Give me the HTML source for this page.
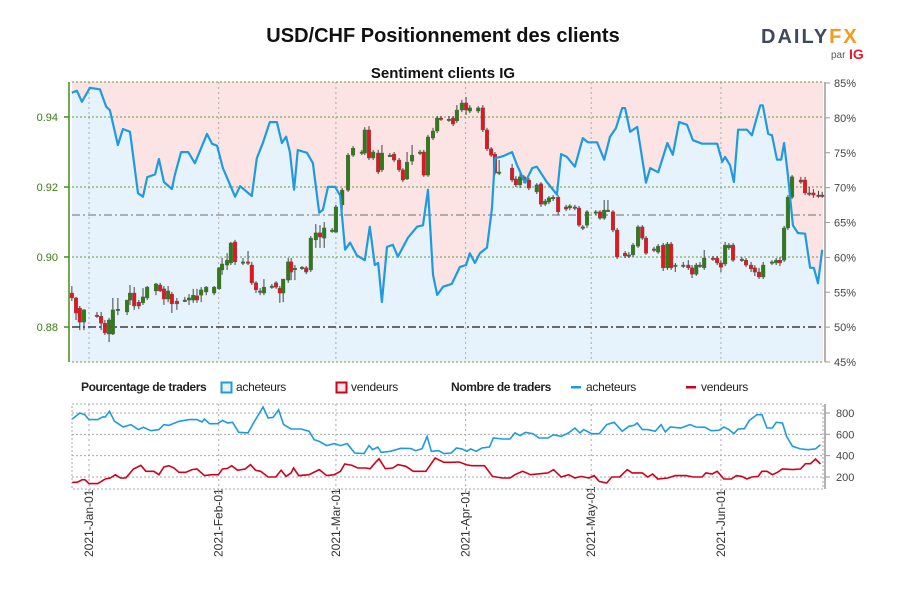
<!DOCTYPE html>
<html><head><meta charset="utf-8"><style>
body{margin:0;background:#fff;}
svg{display:block;font-family:"Liberation Sans",sans-serif;}
</style></head><body>
<svg id="c" width="900" height="600" viewBox="0 0 900 600">
<text x="443" y="42" text-anchor="middle" font-size="20" font-weight="bold" fill="#111">USD/CHF Positionnement des clients</text>
<text x="443" y="78" text-anchor="middle" font-size="15" font-weight="bold" fill="#111">Sentiment clients IG</text>
<g>
<text x="761" y="43" font-size="20" font-weight="bold" letter-spacing="2" fill="#3e4a5b">DAILY<tspan fill="#f39a1e">FX</tspan></text>
<text x="831" y="58" font-size="10" fill="#555">par</text>
<text x="849" y="59" font-size="14" font-weight="bold" fill="#e01e2b">IG</text>
</g>
<g id="main"></g>
<g id="bottom"></g>
<g font-size="12" fill="#222">
<text x="81" y="391" font-weight="bold" letter-spacing="-0.4">Pourcentage de traders</text>
<rect x="221.5" y="382.5" width="10" height="10" fill="#e6f3fb" stroke="#1e9be0" stroke-width="2"/>
<text x="236" y="391" letter-spacing="-0.3">acheteurs</text>
<rect x="336.5" y="382.5" width="10" height="10" fill="#fce6e6" stroke="#d0021b" stroke-width="2"/>
<text x="351" y="391" letter-spacing="-0.3">vendeurs</text>
<text x="451" y="391" font-weight="bold" letter-spacing="-0.4">Nombre de traders</text>
<rect x="571" y="386" width="10" height="2.5" fill="#1e9be0"/>
<text x="586" y="391" letter-spacing="-0.3">acheteurs</text>
<rect x="686" y="386" width="10" height="2.5" fill="#d0021b"/>
<text x="701" y="391" letter-spacing="-0.3">vendeurs</text>
</g>
</svg>
<script>
// ---- data ----
const monthLabels = ["2021-Jan-01","2021-Feb-01","2021-Mar-01","2021-Apr-01","2021-May-01","2021-Jun-01"];
const monthDays = [0,31,59,90,120,151];
const priceTicks = [0.94,0.92,0.90,0.88];
const priceTickLabels = ["0.94","0.92","0.90","0.88"];
const pctTicks = [85,80,75,70,65,60,55,50,45];
const countTicks = [800,600,400,200];
const refPrices = [0.912,0.88];

const sentDays = [-4.1,-2.9,-1.7,0.2,2.6,4.1,5.0,6.9,8.1,9.8,11.7,12.9,13.9,15.8,16.7,17.9,19.8,20.5,22.0,23.7,25.3,28.2,29.4,30.6,32.0,34.9,36.1,38.9,40.1,41.6,43.2,44.9,46.1,47.1,48.0,49.0,49.9,52.1,53.5,55.0,55.9,57.1,58.8,60.0,61.2,62.4,64.0,65.9,67.1,68.3,69.1,70.0,71.2,72.6,73.8,76.2,78.4,79.8,81.0,82.2,83.2,84.6,86.7,88.6,90.1,91.0,92.2,93.4,95.1,96.3,97.0,98.9,101.1,102.3,104.2,105.9,107.0,109.4,111.8,112.8,114.2,116.1,118.0,119.2,121.4,123.1,124.5,125.9,127.4,128.1,129.3,131.0,133.1,134.1,136.0,138.2,139.5,141.0,142.9,144.3,146.5,150.1,151.3,152.0,153.2,154.1,155.1,157.2,158.4,159.4,160.4,161.0,162.3,163.2,164.4,165.4,166.1,167.0,168.2,169.4,171.1,172.3,173.2,174.2,175.2];
const sentLongPct = [83.6,83.9,82.3,84.3,84.1,81.6,81.1,76.1,78.4,78.0,69.2,68.7,71.5,71.9,74.1,70.8,69.8,71.8,75.1,75.1,73.5,77.7,76.3,76.0,72.8,68.7,70.2,68.8,74.2,76.5,79.4,79.4,76.4,77.3,75.1,69.7,75.4,75.0,73.5,66.4,66.8,70.1,70.1,68.9,61.1,62.1,60.3,59.6,64.4,58.9,59.2,53.6,61.5,61.8,60.1,62.8,64.4,64.6,69.7,57.5,54.6,55.8,56.2,58.6,58.9,60.6,59.2,60.6,61.4,67.1,74.2,74.5,75.1,73.2,70.7,72.8,73.0,70.8,69.0,74.8,74.4,73.0,77.1,76.5,76.5,74.0,77.3,78.5,81.4,81.4,78.0,78.7,70.7,72.8,72.2,76.4,74.7,79.4,79.0,76.8,76.3,76.3,73.7,74.4,73.2,70.8,78.3,78.3,77.5,79.7,81.8,81.8,77.7,77.5,74.0,74.0,76.4,71.8,64.6,63.5,63.4,58.5,58.5,56.3,61.1];

const candleDays = [-4.1,-3.1,-2.2,-1.2,1.9,2.9,3.8,4.8,5.7,6.9,9.1,9.8,10.8,11.9,12.9,13.9,16.0,17.0,17.9,18.9,19.8,21.0,22.9,23.9,24.9,25.8,26.8,28.0,29.9,31.1,31.8,33.0,33.9,34.9,36.8,38.0,38.9,39.9,40.9,41.8,43.7,44.7,45.6,46.4,47.6,48.3,49.2,50.9,51.9,53.0,54.2,55.2,56.2,58.1,59.0,60.5,61.9,63.1,65.2,65.9,66.9,67.9,69.1,70.0,71.9,72.9,74.1,75.0,76.0,77.2,79.1,80.0,81.0,82.2,83.2,84.1,86.0,87.0,87.9,89.1,90.1,91.0,93.0,94.1,95.1,96.1,97.0,98.0,101.1,102.0,103.0,103.9,105.1,107.0,108.0,109.0,109.9,110.9,112.1,114.0,114.9,116.1,117.1,118.0,119.0,121.1,122.1,123.1,124.0,125.2,126.2,128.1,129.0,130.0,131.2,132.2,133.1,135.0,136.0,137.2,138.2,139.1,140.1,142.0,143.2,144.1,145.1,146.0,147.0,149.1,150.1,151.0,152.0,152.9,153.9,156.0,157.0,158.2,159.1,160.1,161.1,163.2,164.2,165.1,166.1,167.0,168.0,170.1,171.1,172.1,173.1,174.3,175.2];
const candleOpen = [.8897,.8883,.8854,.8814,.8834,.8831,.8811,.8780,.8780,.8849,.8843,.8877,.8897,.8871,.8869,.8883,.8903,.8920,.8909,.8880,.8894,.8874,.8874,.8877,.8877,.8889,.8891,.8900,.8897,.8909,.8963,.8977,.8983,.9043,.8983,.8986,.8977,.8926,.8903,.8897,.8914,.8926,.8911,.8897,.8934,.8986,.8966,.8969,.8969,.8963,.9049,.9069,.9054,.9074,.9071,.9149,.9191,.9291,.9297,.9297,.9363,.9283,.9297,.9249,.9289,.9294,.9277,.9249,.9223,.9274,.9297,.9300,.9234,.9340,.9360,.9397,.9391,.9397,.9389,.9420,.9440,.9417,.9417,.9426,.9363,.9309,.9294,.9240,.9254,.9223,.9206,.9229,.9220,.9186,.9209,.9151,.9157,.9166,.9171,.9143,.9140,.9143,.9140,.9086,.9091,.9126,.9129,.9111,.9131,.9129,.9077,.9011,.9003,.9006,.9031,.9086,.9054,.9023,.9014,.9034,.8969,.9037,.8974,.8974,.8977,.8969,.8951,.8974,.8969,.8997,.8997,.8983,.8980,.9026,.9034,.8991,.8991,.8977,.8969,.8957,.8943,.8983,.8983,.8991,.8991,.9083,.9171,.9220,.9220,.9183,.9183,.9177,.9177];
const candleClose = [.8883,.8840,.8814,.8849,.8831,.8811,.8783,.8820,.8849,.8851,.8877,.8897,.8860,.8860,.8886,.8914,.8923,.8903,.8880,.8903,.8866,.8866,.8877,.8883,.8891,.8877,.8906,.8914,.8914,.8969,.8980,.8991,.9040,.8986,.8986,.8983,.8926,.8906,.8900,.8914,.8917,.8914,.8897,.8937,.8986,.8957,.8968,.8971,.8957,.9054,.9069,.9057,.9083,.9077,.9143,.9191,.9291,.9311,.9300,.9363,.9283,.9300,.9243,.9297,.9291,.9277,.9249,.9220,.9271,.9291,.9300,.9234,.9343,.9360,.9397,.9394,.9394,.9380,.9420,.9440,.9420,.9426,.9426,.9363,.9309,.9291,.9240,.9243,.9220,.9206,.9229,.9220,.9197,.9206,.9151,.9160,.9169,.9171,.9129,.9137,.9146,.9140,.9091,.9083,.9129,.9129,.9111,.9134,.9134,.9077,.9000,.9003,.9006,.9034,.9086,.9054,.9011,.9020,.9031,.8969,.9037,.8969,.8977,.8977,.8969,.8951,.8977,.8977,.8997,.8994,.8983,.8971,.9034,.9034,.8991,.8994,.8977,.8966,.8957,.8943,.8977,.8986,.8991,.8983,.9083,.9171,.9229,.9214,.9183,.9180,.9177,.9174,.9174];
const candleHigh = [.8917,.8886,.8860,.8851,.8843,.8843,.8820,.8826,.8883,.8883,.8877,.8920,.8914,.8877,.8911,.8917,.8926,.8926,.8917,.8917,.8900,.8883,.8886,.8894,.8909,.8909,.8914,.8917,.8917,.8971,.8997,.9011,.9043,.9049,.8997,.9017,.8986,.8931,.8911,.8937,.8923,.8931,.8917,.8937,.8997,.8997,.8977,.8974,.8974,.9060,.9094,.9091,.9100,.9083,.9149,.9197,.9297,.9317,.9306,.9371,.9374,.9306,.9306,.9320,.9297,.9300,.9283,.9254,.9300,.9320,.9306,.9306,.9349,.9369,.9403,.9403,.9403,.9403,.9434,.9449,.9457,.9434,.9431,.9434,.9369,.9314,.9300,.9277,.9266,.9231,.9249,.9234,.9226,.9211,.9214,.9166,.9174,.9177,.9177,.9149,.9151,.9149,.9146,.9091,.9134,.9134,.9134,.9163,.9163,.9134,.9083,.9017,.9014,.9040,.9091,.9091,.9060,.9029,.9037,.9040,.9043,.9043,.8983,.8986,.8991,.8977,.8983,.8986,.9020,.9003,.9003,.8991,.9043,.9040,.9040,.9000,.8997,.8986,.8977,.8969,.8986,.8991,.8997,.9000,.9089,.9177,.9234,.9229,.9229,.9200,.9194,.9189,.9186];
const candleLow = [.8874,.8820,.8791,.8791,.8826,.8791,.8777,.8757,.8777,.8834,.8834,.8863,.8849,.8851,.8863,.8877,.8891,.8900,.8863,.8871,.8840,.8849,.8871,.8863,.8869,.8869,.8871,.8891,.8891,.8906,.8949,.8963,.8977,.8977,.8977,.8977,.8920,.8897,.8891,.8891,.8909,.8909,.8869,.8871,.8926,.8934,.8934,.8963,.8951,.8957,.9026,.9026,.9026,.9069,.9069,.9134,.9186,.9286,.9291,.9291,.9277,.9277,.9237,.9243,.9286,.9271,.9243,.9214,.9220,.9263,.9291,.9229,.9229,.9334,.9354,.9389,.9386,.9374,.9383,.9414,.9406,.9411,.9411,.9357,.9303,.9286,.9234,.9234,.9214,.9200,.9197,.9211,.9191,.9180,.9143,.9146,.9151,.9160,.9120,.9131,.9134,.9134,.9086,.9077,.9083,.9120,.9106,.9106,.9129,.9071,.8994,.8997,.8997,.9000,.9026,.9049,.9006,.9014,.9009,.8960,.8963,.8963,.8957,.8969,.8963,.8940,.8946,.8969,.8963,.8989,.8977,.8957,.8974,.9020,.8986,.8986,.8971,.8957,.8946,.8937,.8937,.8977,.8977,.8974,.8986,.9077,.9166,.9209,.9177,.9174,.9169,.9169,.9169];

const longDays = [-4.0,-2.2,-1.0,0,2.1,3.3,3.9,4.9,6.1,8.2,10.0,11.8,13.0,14.8,16.7,17.9,19.1,21.5,24.0,25.8,27.0,27.6,28.8,30.7,31.9,33.1,34.3,35.8,38.0,39.2,41.6,42.8,44.0,45.3,46.5,48.3,50.7,52.6,53.8,55.0,56.8,58.6,60.1,61.7,63.5,65.7,66.9,67.8,69.0,69.8,72.0,74.5,76.9,78.1,79.6,80.8,81.8,83.6,84.8,86.6,87.8,89.1,90.3,91.2,92.5,93.9,95.7,96.6,98.8,100.6,101.8,103.0,104.3,106.1,107.5,109.7,111.0,112.8,114.6,116.1,117.3,118.2,120.1,121.9,123.7,125.5,127.4,129.0,130.2,131.0,132.2,133.5,135.3,136.7,137.7,138.9,141.4,143.6,145.0,147.2,148.7,150.5,151.7,152.9,154.1,155.1,156.6,157.8,159.6,160.8,162.0,163.3,164.2,165.7,166.7,168.1,170.0,171.8,173.6,174.8];
const longCount = [744,800,784,738,738,763,763,816,722,669,691,644,666,634,644,691,684,722,738,738,716,744,700,700,731,706,713,619,613,700,856,753,759,831,691,650,650,628,550,534,494,513,494,513,425,419,494,456,481,431,441,469,466,447,466,581,441,447,419,425,472,463,441,463,441,472,481,566,556,556,613,588,619,606,566,566,597,581,613,659,613,644,606,606,691,713,628,675,684,706,644,644,628,691,622,669,659,691,669,666,634,638,669,644,606,650,653,731,784,784,659,659,713,706,581,488,463,456,463,503];
const shortDays = [-4.0,-2.8,-1.6,-1.0,0,2.1,3.9,5.1,6.3,7.5,8.8,10.6,12.4,13.6,15.5,16.7,17.9,19.1,20.3,21.5,23.1,24.6,25.8,27.6,29.4,30.9,31.9,33.1,34.1,35.5,37.3,38.6,39.8,41.0,42.8,44.6,45.9,47.1,48.3,48.9,50.1,52.6,55.0,56.8,58.6,60.1,61.1,62.9,64.2,66.0,67.2,68.2,69.3,70.8,72.6,73.8,75.7,77.5,80.5,82.7,84.8,86.6,88.4,90.3,91.5,94.5,96.4,98.8,100.6,101.8,103.6,105.5,107.9,109.7,111.0,112.8,114.6,116.1,117.6,119.5,120.7,121.9,123.7,124.9,126.8,128.6,129.8,132.2,133.5,134.7,135.9,138.3,140.1,142.6,144.4,146.5,147.4,148.9,150.1,151.7,153.5,154.7,156.0,157.2,158.4,159.9,160.8,162.0,163.3,164.5,165.7,168.1,170.0,171.2,172.4,173.6,174.8];
const shortCount = [150,150,175,175,138,138,181,191,222,191,191,275,309,253,253,222,294,306,284,244,244,269,275,213,222,222,275,281,306,263,275,316,263,253,200,200,263,206,238,284,213,222,269,213,222,253,322,309,284,284,278,325,372,278,284,316,300,253,253,378,338,338,341,313,306,306,206,191,191,222,253,222,231,238,269,200,222,191,206,191,213,159,144,200,200,269,238,238,200,228,181,191,213,213,200,200,238,228,253,181,181,213,206,181,200,206,253,253,222,244,275,269,275,325,325,369,322];

// ---- scales ----
const X0=72, X1=823, TOP=82, BOT=362, BTOP=404, BBOT=489;
const xDay = d => 89 + d*4.185;
const yPct = p => 83 + (85-p)*6.975;
const yPrice = v => 117 + (0.94-v)*3500;
const yCount = v => 413 + (800-v)*0.10667;
const NS="http://www.w3.org/2000/svg";
function mk(tag, attrs, parent){const e=document.createElementNS(NS,tag);for(const k in attrs)e.setAttribute(k,attrs[k]);parent.appendChild(e);return e;}

const main=document.getElementById('main');
const bottom=document.getElementById('bottom');

let bg=mk('rect',{x:X0,y:TOP,width:X1-X0,height:BOT-TOP,fill:'#fce4e5'},main);


let pts=sentDays.map((d,i)=>xDay(d).toFixed(1)+','+yPct(sentLongPct[i]).toFixed(1));
let area=mk('polygon',{points:xDay(sentDays[0]).toFixed(1)+','+BOT+' '+pts.join(' ')+' '+xDay(sentDays[sentDays.length-1]).toFixed(1)+','+BOT,fill:'#e6f3fc'},main);



monthDays.forEach((d,i)=>{
  const g=mk('line',{x1:xDay(d),x2:xDay(d),y1:TOP,y2:BOT,stroke:'#aaa','stroke-dasharray':'2,3','stroke-width':1},main);
  
  
  const g2=mk('line',{x1:xDay(d),x2:xDay(d),y1:BTOP,y2:BBOT,stroke:'#aaa','stroke-dasharray':'2,3','stroke-width':1},bottom);
  
  
  const t=mk('text',{x:0,y:0,transform:`translate(${xDay(d)+4},557) rotate(-90)`,'font-size':12,fill:'#333'},bottom);
  t.textContent=monthLabels[i];
  
  
  const tk=mk('line',{x1:xDay(d),x2:xDay(d),y1:BBOT,y2:BBOT+5,stroke:'#999'},bottom);
  
  
});
[TOP,BOT].forEach(y=>{
  const l=mk('line',{x1:X0,x2:X1,y1:y,y2:y,stroke:'#6a9a3a','stroke-dasharray':'2,2'},main);
  
  
});
priceTicks.forEach((p,i)=>{
  const y=yPrice(p);
  if(i<3){
    const l=mk('line',{x1:X0,x2:X1,y1:y,y2:y,stroke:'#6a9a3a','stroke-dasharray':'2,2'},main);
    
    
  }
  const tk=mk('line',{x1:64,x2:69,y1:y,y2:y,stroke:'#4a8a1a','stroke-width':1.5},main);
  
  
  const t=mk('text',{x:58,y:y+4,'text-anchor':'end','font-size':11,fill:'#3a7a10'},main);
  t.textContent=priceTickLabels[i];
  
  
});
refPrices.forEach((p,i)=>{
  const l=mk('line',{x1:X0,x2:X1,y1:yPrice(p),y2:yPrice(p),stroke:i?'#555':'#888','stroke-width':i?1.8:1.2,'stroke-dasharray':'8,3,2,3'},main);
  
  
});
let la=mk('line',{x1:69,x2:69,y1:TOP,y2:BOT,stroke:'#4a8a1a','stroke-width':1.5},main);


let ra=mk('line',{x1:825,x2:825,y1:TOP,y2:BOT,stroke:'#999','stroke-width':1.5},main);


pctTicks.forEach(p=>{
  const y=yPct(p);
  const tk=mk('line',{x1:825,x2:830,y1:y,y2:y,stroke:'#999'},main);
  
  
  const t=mk('text',{x:834,y:y+4,'font-size':11,fill:'#444'},main);
  t.textContent=p+'%';
  
  
});

candleDays.forEach((d,i)=>{
  const x=xDay(d), o=candleOpen[i], c=candleClose[i];
  const up=c>=o;
  const w=mk('line',{x1:x,x2:x,y1:yPrice(candleHigh[i]),y2:yPrice(candleLow[i]),stroke:'#444','stroke-width':1},main);
  
  
  const yt=yPrice(Math.max(o,c)), yb=yPrice(Math.min(o,c));
  const b=mk('rect',{x:x-1.8,y:yt,width:3.6,height:Math.max(1.5,yb-yt),fill:up?'#2e7d14':'#e8141c',stroke:'#555','stroke-width':0.4},main);
  
  
});

let sl=mk('polyline',{points:pts.join(' '),fill:'none',stroke:'#1e9be0','stroke-width':2.2,'stroke-linejoin':'round'},main);



let bb=mk('rect',{x:X0,y:BTOP,width:X1-X0,height:BBOT-BTOP,fill:'none',stroke:'#aaa','stroke-dasharray':'2,2'},bottom);


let bra=mk('line',{x1:825,x2:825,y1:BTOP,y2:BBOT,stroke:'#999','stroke-width':1.5},bottom);


countTicks.forEach(v=>{
  const y=yCount(v);
  const l=mk('line',{x1:X0,x2:X1,y1:y,y2:y,stroke:'#aaa','stroke-dasharray':'2,2'},bottom);
  
  
  const tk=mk('line',{x1:825,x2:830,y1:y,y2:y,stroke:'#999'},bottom);
  
  
  const t=mk('text',{x:836,y:y+4,'font-size':11,fill:'#444'},bottom);
  t.textContent=v;
  
  
});
let lp=mk('polyline',{points:longDays.map((d,i)=>xDay(d).toFixed(1)+','+yCount(longCount[i]).toFixed(1)).join(' '),fill:'none',stroke:'#1e9be0','stroke-width':1.6},bottom);


let sp=mk('polyline',{points:shortDays.map((d,i)=>xDay(d).toFixed(1)+','+yCount(shortCount[i]).toFixed(1)).join(' '),fill:'none',stroke:'#d0021b','stroke-width':1.6},bottom);


</script>
</body></html>
